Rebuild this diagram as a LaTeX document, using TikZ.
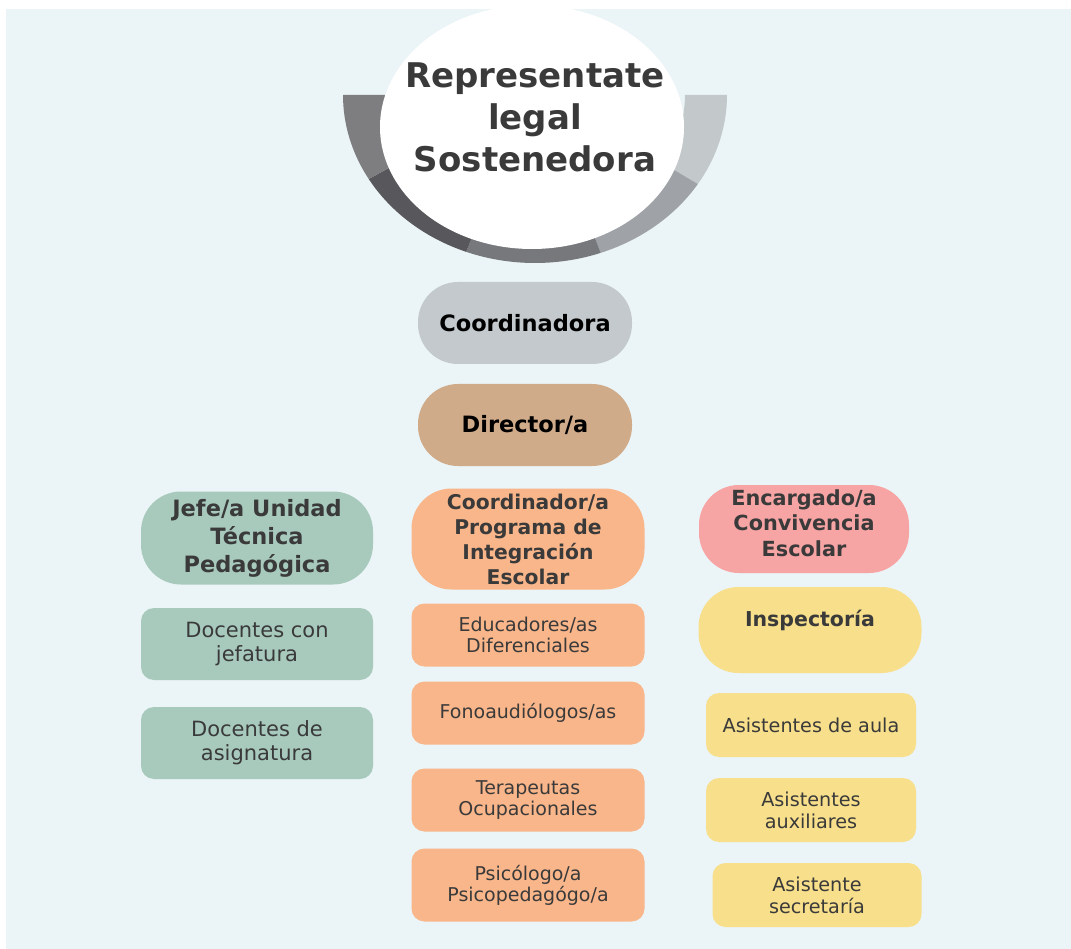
\documentclass[tikz,border=0pt]{standalone}
\usepackage{fontspec}
\setmainfont{DejaVu Sans}
\definecolor{panel}{HTML}{EBF4F6}
\definecolor{ink}{HTML}{3A3A3A}
\definecolor{segA}{HTML}{7E7E81}
\definecolor{segB}{HTML}{58585C}
\definecolor{segC}{HTML}{77787C}
\definecolor{segD}{HTML}{9FA2A6}
\definecolor{segE}{HTML}{C3C8CB}
\definecolor{coordgray}{HTML}{C3C9CC}
\definecolor{dirtan}{HTML}{D0AB8A}
\definecolor{sage}{HTML}{A8CABD}
\definecolor{peach}{HTML}{F9B68A}
\definecolor{rose}{HTML}{F7A4A4}
\definecolor{butter}{HTML}{F7DF8B}
\tikzset{
  pill/.style={fill=#1, draw=none, rounded corners=40pt, align=center, text=ink,
    font=\bfseries\fontsize{22.5}{28}\selectfont},
  card/.style={fill=#1, draw=none, rounded corners=13pt, align=center, text=ink,
    font=\fontsize{21}{24}\selectfont}
}
\newcommand{\ringsector}[3]{%
  \fill[#3] (#1:192 and 168) arc[start angle=#1, end angle=#2, x radius=192, y radius=168]
    -- (#2:150 and 128) arc[start angle=#2, end angle=#1, x radius=150, y radius=128] -- cycle;}
\begin{document}
\begin{tikzpicture}[x=1pt,y=-1pt]
\useasboundingbox (0,0) rectangle (1071,949);
\fill[white] (0,0) rectangle (1071,949);
\fill[panel] (6,9) rectangle (1071,949);
% ring under the top ellipse
\begin{scope}[shift={(535,95)}]
\ringsector{0}{32}{segE}
\ringsector{32}{70}{segD}
\ringsector{70}{111}{segC}
\ringsector{111}{150}{segB}
\ringsector{150}{180}{segA}
\end{scope}
\fill[white] (532,127) ellipse[x radius=152, y radius=122];
\node[align=center, text=ink, font=\bfseries\fontsize{34}{42}\selectfont] (rep) at (535,117)
  {Representate\\legal\\Sostenedora};
% central column
\node[pill=coordgray, text=black, minimum width=214pt, minimum height=82pt] (coord) at (525,323) {Coordinadora};
\node[pill=dirtan, text=black, minimum width=214pt, minimum height=82pt] (dir) at (525,425) {Director/a};
% left column
\node[pill=sage, font=\bfseries\fontsize{22.5}{28}\selectfont, minimum width=232pt, minimum height=93pt] (utp) at (257,538)
  {Jefe/a Unidad\\T\'ecnica\\Pedag\'ogica};
\node[card=sage, minimum width=232pt, minimum height=72pt] (jefatura) at (257,644) {Docentes con\\jefatura};
\node[card=sage, minimum width=232pt, minimum height=72pt] (asignatura) at (257,743) {Docentes de\\asignatura};
% middle column
\node[pill=peach, font=\bfseries\fontsize{20.3}{25}\selectfont, minimum width=233pt, minimum height=101pt] (pie) at (528,539)
  {Coordinador/a\\Programa de\\Integraci\'on\\Escolar};
\node[card=peach, font=\fontsize{19}{21}\selectfont, minimum width=233pt, minimum height=63pt] (edu) at (528,635) {Educadores/as\\Diferenciales};
\node[card=peach, font=\fontsize{19}{21}\selectfont, minimum width=233pt, minimum height=63pt] (fono) at (528,713) {Fonoaudi\'ologos/as};
\node[card=peach, font=\fontsize{19}{21}\selectfont, minimum width=233pt, minimum height=63pt] (tera) at (528,800) {Terapeutas\\Ocupacionales};
\node[card=peach, font=\fontsize{19}{21}\selectfont, minimum width=233pt, minimum height=73pt] (psico) at (528,885) {Psic\'ologo/a\\Psicopedag\'ogo/a};
% right column
\node[pill=rose, minimum width=210pt, minimum height=88pt] (conv) at (804,529) {};
\node[text=ink, align=center, font=\bfseries\fontsize{20.8}{25.5}\selectfont] (convtext) at (804,523)
  {Encargado/a\\Convivencia\\Escolar};
\node[pill=butter, minimum width=223pt, minimum height=86pt] (insp) at (810,630) {};
\node[text=ink, font=\bfseries\fontsize{20.5}{25}\selectfont] (insptext) at (810,620) {Inspector\'ia};
\node[card=butter, font=\fontsize{19.2}{22}\selectfont, minimum width=210pt, minimum height=64pt] (aula) at (811,725) {Asistentes de aula};
\node[card=butter, font=\fontsize{19.2}{22}\selectfont, minimum width=210pt, minimum height=64pt] (aux) at (811,810) {Asistentes\\auxiliares};
\node[card=butter, font=\fontsize{19.2}{22}\selectfont, minimum width=209pt, minimum height=64pt] (secre) at (817,895) {Asistente\\secretar\'ia};
\end{tikzpicture}
\end{document}
